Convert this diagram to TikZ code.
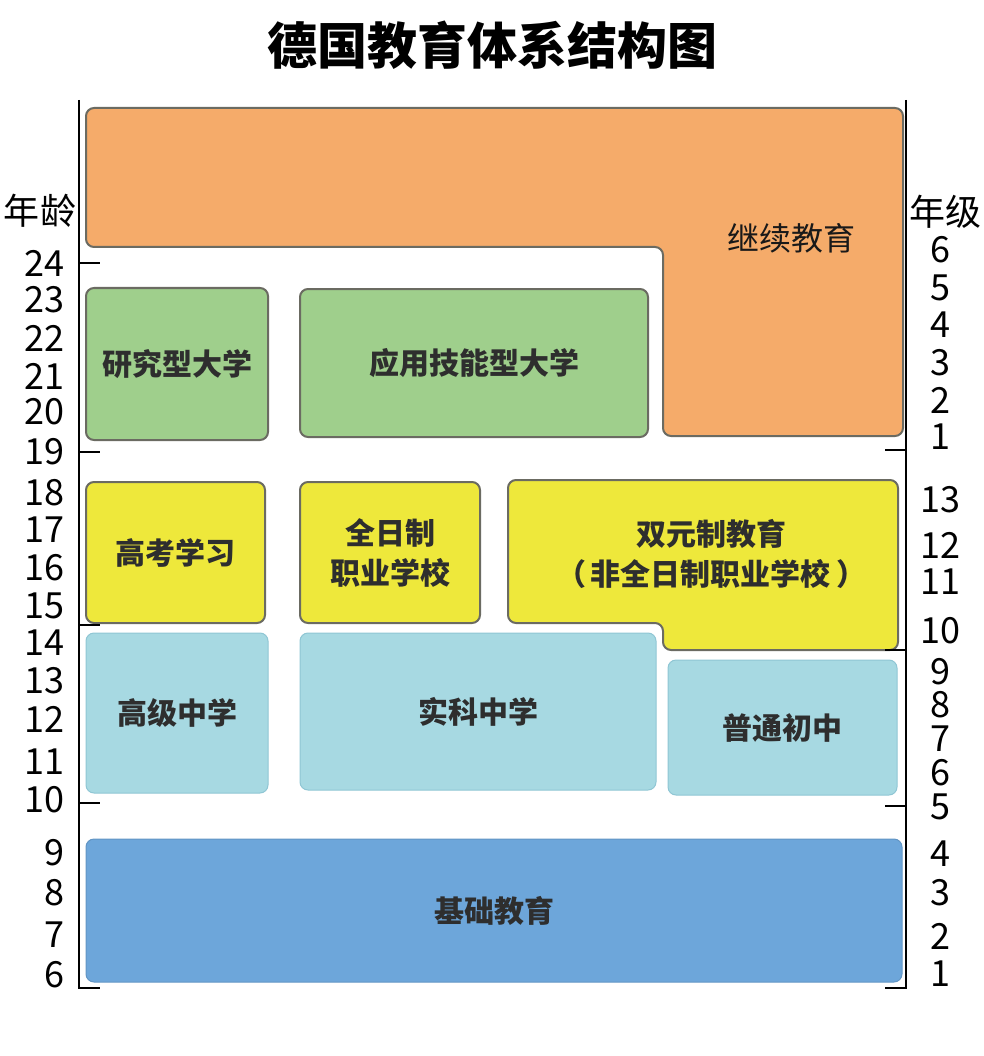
\documentclass[tikz,border=0pt]{standalone}
\usepackage{fontspec}
\setmainfont{Noto Sans CJK SC}
\definecolor{contorange}{HTML}{F5AB6A}
\definecolor{unigreen}{HTML}{9FCF8C}
\definecolor{prepyellow}{HTML}{EEE83B}
\definecolor{secblue}{HTML}{A7D9E2}
\definecolor{basicblue}{HTML}{6DA6DA}
\definecolor{boxline}{HTML}{6B6B62}
\definecolor{blueline}{HTML}{8FC6D4}
\definecolor{textgray}{HTML}{2E2E2E}
\begin{document}
\begin{tikzpicture}[x=1pt,y=-1pt,
  every node/.style = {font=\fontsize{30}{40}\selectfont\bfseries, text=textgray, align=center},
  box/.style = {draw=boxline, line width=2pt, rounded corners=8pt},
  bluebox/.style = {draw=blueline, line width=1pt, rounded corners=8pt},
  axislabel/.style = {font=\fontsize{36}{36}\selectfont, text=black, inner sep=0pt},
  axisline/.style = {line width=1.4pt, black}]

  \useasboundingbox (0,0) rectangle (983,1056);

  \node[font=\fontsize{50}{50}\selectfont\bfseries, text=black] (title) at (492,45) {德国教育体系结构图};

  \draw[box, fill=contorange] (86,108) -- (903,108) -- (903,436) -- (663,436) -- (663,247) -- (86,247) -- cycle;
  \node[font=\fontsize{32}{32}\selectfont, text=black!90] (cont) at (791,238) {继续教育};

  \node[box, fill=unigreen, minimum width=182pt, minimum height=152pt] (research) at (177,364) {研究型大学};
  \node[box, fill=unigreen, minimum width=348pt, minimum height=148pt] (applied) at (474,363) {应用技能型大学};

  \node[box, fill=prepyellow, minimum width=179pt, minimum height=141pt] (abitur) at (175.5,552.5) {高考学习};
  \node[box, fill=prepyellow, minimum width=180pt, minimum height=141pt] (fulltime) at (390,552.5) {全日制\\职业学校};
  \draw[box, fill=prepyellow] (508,480) -- (898,480) -- (898,650) -- (663,650) -- (663,623) -- (508,623) -- cycle;
  \node (dual) at (711,554) {双元制教育\\（\,非全日制职业学校\,）};

  \node[bluebox, fill=secblue, minimum width=182pt, minimum height=160pt] (gym) at (177,713) {高级中学};
  \node[bluebox, fill=secblue, minimum width=356pt, minimum height=157pt] (real) at (478,711.5) {实科中学};
  \node[bluebox, fill=secblue, minimum width=229pt, minimum height=135pt] (haupt) at (782.5,727.5) {普通初中};

  \node[bluebox, draw=basicblue!90!black, fill=basicblue, minimum width=816pt, minimum height=143pt] (basic) at (494,910.5) {基础教育};

  \draw[axisline] (79,100) -- (79,988) -- (100,988);
  \foreach \y in {263,452,625,803}
    \draw[axisline] (79,\y) -- (100,\y);
  \draw[axisline] (906,100) -- (906,988) -- (885,988);
  \foreach \y in {450,650,806}
    \draw[axisline] (906,\y) -- (885,\y);

  \node[axislabel] (agehead) at (40,211) {年龄};
  \node[axislabel] (gradehead) at (945,212) {年级};
  \foreach \n/\y in {24/263,23/300,22/338,21/376,20/412,19/452,18/493,17/530,16/568,15/606,
                     14/643,13/681,12/719,11/762,10/800,9/853,8/893,7/935,6/975}
    \node[axislabel, anchor=east] (age\n) at (65,\y) {\n};
  \foreach \n/\y [count=\i] in {6/250,5/288,4/325,3/363,2/400,1/437,13/500,12/545,11/582,10/631,
                                9/672,8/705,7/739,6/773,5/807,4/854,3/893,2/936,1/974}
    \node[axislabel] (grade\i) at (940,\y) {\n};
\end{tikzpicture}
\end{document}
